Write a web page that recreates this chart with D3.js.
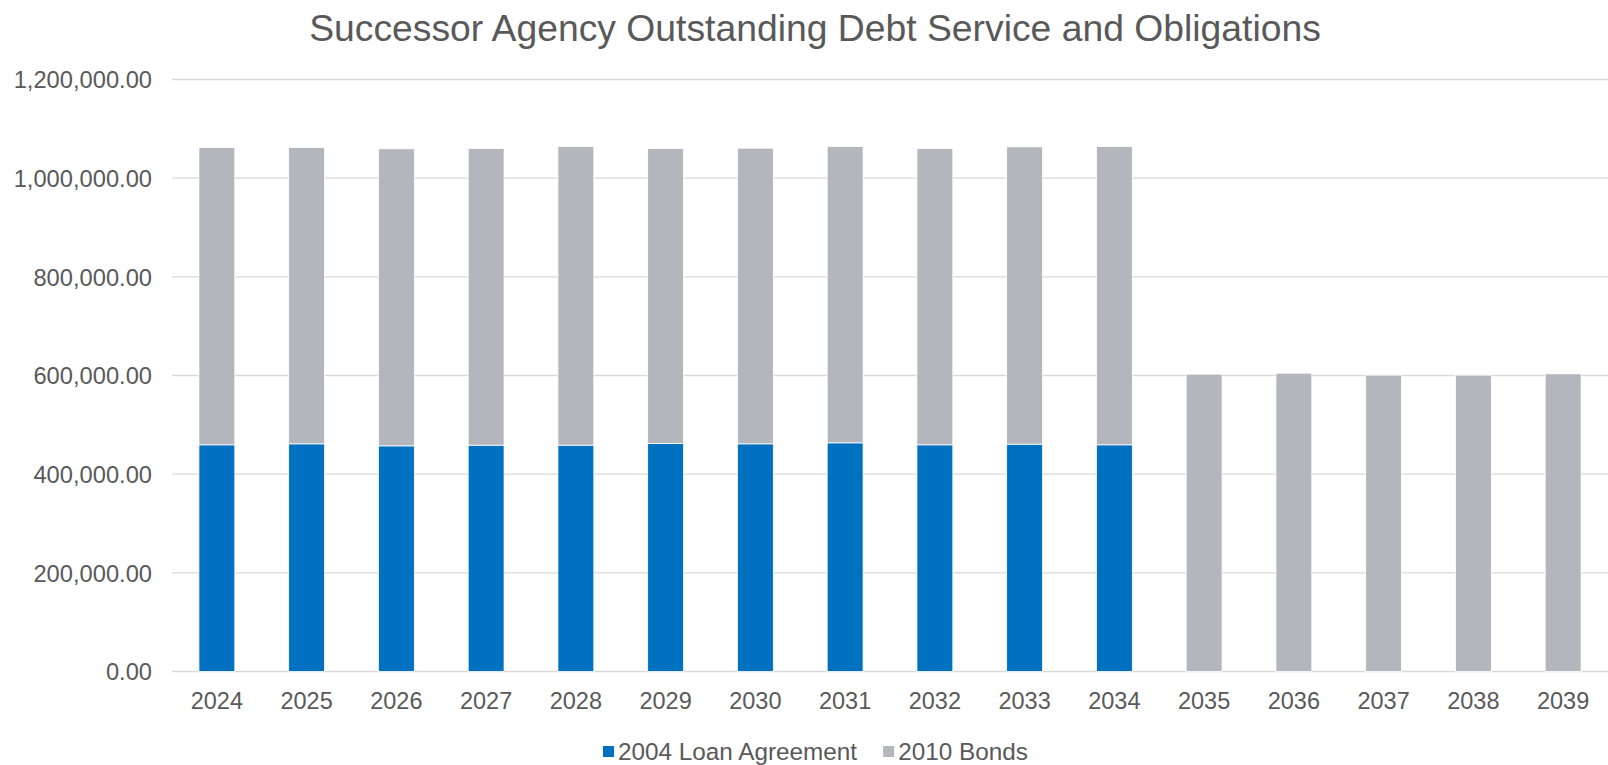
<!DOCTYPE html>
<meta charset="utf-8">
<style>
body { margin: 0; background: #fff; }
svg text { font-family: "Liberation Sans", Arial, sans-serif; fill: #595959; }
.grid line { stroke: #d9d9d9; stroke-width: 1.3; }
</style>
<body>
<svg class="chart" width="1608" height="765"></svg>
<script src="https://cdn.jsdelivr.net/npm/d3@7"></script>
<script>

var years = ["2024","2025","2026","2027","2028","2029","2030","2031","2032","2033","2034","2035","2036","2037","2038","2039"];
var loan2004 = [459500, 461500, 457400, 458800, 458800, 462200, 461500, 463500, 459500, 460800, 459500, 0, 0, 0, 0, 0];
var bonds2010 = [602700, 600700, 602100, 601300, 605400, 597900, 599300, 600700, 600600, 602700, 604700, 602700, 604700, 600700, 600700, 603400];
var seriesNames = ["2004 Loan Agreement", "2010 Bonds"];
var seriesColors = ["#0070c0", "#b3b6bd"];
var yTicks = [0, 200000, 400000, 600000, 800000, 1000000, 1200000];

var svg = d3.select("svg"),
    width = +svg.attr("width"),
    height = +svg.attr("height");

var x = d3.scaleBand()
    .domain(years)
    .range([172, 1608])
    .paddingInner(0.6)
    .paddingOuter(0.3);

var y = d3.scaleLinear()
    .domain([0, 1200000])
    .range([671.5, 79.5]);

var rows = years.map(function(yr, i) {
  return { year: yr, loan: loan2004[i], bonds: bonds2010[i] };
});

var stack = d3.stack().keys(["loan", "bonds"]);
var layers = stack(rows);

// title
svg.append("text")
    .attr("x", 815)
    .attr("y", 41)
    .attr("text-anchor", "middle")
    .style("font-size", "37.3px")
    .text("Successor Agency Outstanding Debt Service and Obligations");

// gridlines
var grid = svg.append("g").attr("class", "grid");
grid.selectAll("line")
  .data(yTicks)
  .enter().append("line")
    .attr("x1", x.range()[0])
    .attr("x2", x.range()[1])
    .attr("y1", function(d) { return y(d); })
    .attr("y2", function(d) { return y(d); });

// y axis labels
var yAxis = svg.append("g")
    .attr("transform", "translate(152,0)")
    .call(d3.axisLeft(y)
      .tickValues(yTicks)
      .tickSize(0)
      .tickPadding(0)
      .tickFormat(d3.format(",.2f")));
yAxis.select(".domain").remove();
yAxis.selectAll("text")
    .attr("fill", null)
    .style("font-size", "23.7px")
    .attr("dy", "0.35em");

// bars
svg.append("g")
  .selectAll("g")
  .data(layers)
  .enter().append("g")
    .attr("fill", function(d, i) { return seriesColors[i]; })
  .selectAll("rect")
  .data(function(d) { return d.filter(function(p) { return p[1] > p[0]; }); })
  .enter().append("rect")
    .attr("x", function(d) { return x(d.data.year); })
    .attr("width", x.bandwidth())
    .attr("y", function(d) { return y(d[1]); })
    .attr("height", function(d) { return y(d[0]) - y(d[1]); })
    .attr("stroke", "#fff")
    .attr("stroke-width", 0.8);

// x axis
var xAxis = svg.append("g")
    .attr("transform", "translate(0," + y(0) + ")")
    .call(d3.axisBottom(x).tickSize(0).tickPadding(21));
xAxis.select(".domain").remove();
xAxis.selectAll("text")
    .attr("fill", null)
    .style("font-size", "23.5px");

// legend
var legend = svg.append("g").attr("class", "legend");
var lx = 603;
seriesNames.forEach(function(name, i) {
  var item = legend.append("g").attr("transform", "translate(" + lx + ",0)");
  item.append("rect")
      .attr("x", 0)
      .attr("y", 746)
      .attr("width", 11)
      .attr("height", 11)
      .attr("fill", seriesColors[i]);
  var t = item.append("text")
      .attr("x", 15)
      .attr("y", 760)
      .style("font-size", "24.3px")
      .text(name);
  lx += 15 + t.node().getComputedTextLength() + 26;
});

</script>
</body>
